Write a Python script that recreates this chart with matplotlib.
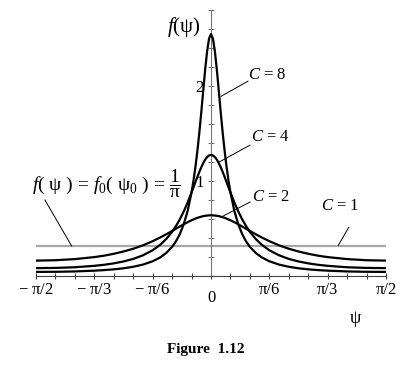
import numpy as np
import matplotlib
matplotlib.use("Agg")
import matplotlib.pyplot as plt
from matplotlib.ticker import FixedLocator, MultipleLocator

plt.rcParams['font.family'] = ['Liberation Serif', 'DejaVu Serif']
plt.rcParams['mathtext.fontset'] = 'custom'
plt.rcParams['mathtext.rm'] = 'Liberation Serif'
plt.rcParams['mathtext.it'] = 'Liberation Serif:italic'
plt.rcParams['mathtext.bf'] = 'Liberation Serif:bold'

# ---- data ----
psi_deg = [-90, -80, -70, -60, -55, -50, -45, -40, -35, -30, -26, -23, -20, -18, -16, -14, -12, -10,
           -9, -8, -7, -6, -5, -4, -3, -2, -1, 0, 1, 2, 3, 4, 5, 6, 7, 8, 9,
           10, 12, 14, 16, 18, 20, 23, 26, 30, 35, 40, 45, 50, 55, 60, 70, 80, 90]

f_c8 = [0.040, 0.041, 0.045, 0.053, 0.059, 0.067, 0.078, 0.094, 0.117, 0.152, 0.194, 0.240, 0.304,
        0.363, 0.440, 0.543, 0.684, 0.878, 1.002, 1.147, 1.316, 1.508, 1.722, 1.949, 2.172, 2.365,
        2.499, 2.546, 2.499, 2.365, 2.172, 1.949, 1.722, 1.508, 1.316, 1.147, 1.002, 0.878, 0.684,
        0.543, 0.440, 0.363, 0.304, 0.240, 0.194, 0.152, 0.117, 0.094, 0.078, 0.067, 0.059, 0.053,
        0.045, 0.041, 0.040]

f_c4 = [0.080, 0.082, 0.089, 0.104, 0.115, 0.130, 0.150, 0.177, 0.215, 0.268, 0.328, 0.387, 0.462,
        0.524, 0.595, 0.678, 0.772, 0.877, 0.931, 0.987, 1.041, 1.094, 1.143, 1.187, 1.223, 1.250,
        1.267, 1.273, 1.267, 1.250, 1.223, 1.187, 1.143, 1.094, 1.041, 0.987, 0.931, 0.877, 0.772,
        0.678, 0.595, 0.524, 0.462, 0.387, 0.328, 0.268, 0.215, 0.177, 0.150, 0.130, 0.115, 0.104,
        0.089, 0.082, 0.080]

f_c2 = [0.159, 0.163, 0.175, 0.196, 0.211, 0.231, 0.255, 0.284, 0.320, 0.364, 0.404, 0.437, 0.471,
        0.495, 0.519, 0.542, 0.564, 0.584, 0.593, 0.602, 0.610, 0.616, 0.622, 0.628, 0.631, 0.634,
        0.636, 0.637, 0.636, 0.634, 0.631, 0.628, 0.622, 0.616, 0.610, 0.602, 0.593, 0.584, 0.564,
        0.542, 0.519, 0.495, 0.471, 0.437, 0.404, 0.364, 0.320, 0.284, 0.255, 0.231, 0.211, 0.196,
        0.175, 0.163, 0.159]

f_c1 = 0.318  # level of the C = 1 line (1/pi)

xtick_labels = ["$-$ π/2", "$-$ π/3", "$-$ π/6", "", "π/6", "π/3", "π/2"]
ytick_values = [1, 2]
curve_labels = ["C = 8", "C = 4", "C = 2", "C = 1"]

psi = np.deg2rad(psi_deg)
half = np.pi / 2

fig = plt.figure(figsize=(4.16, 3.75), dpi=100)
ax = fig.add_axes([36 / 416, (375 - 275.7) / 375, 350 / 416, 265.7 / 375])
ax.set_xlim(-half, half)
ax.set_ylim(0, 2.8)

ax.plot([-half, half], [f_c1, f_c1], color='#a6a6a6', lw=1.6, solid_capstyle='butt', zorder=2)
for vals in (f_c2, f_c4, f_c8):
    ax.plot(psi, vals, color='black', lw=1.6, zorder=3)

for s in ('top', 'right'):
    ax.spines[s].set_visible(False)
ax.spines['left'].set_position(('data', 0))
ax.spines['bottom'].set_position(('data', 0))
ax.spines['left'].set_color('#777777')
ax.spines['bottom'].set_color('#444444')
ax.spines['left'].set_linewidth(0.8)
ax.spines['bottom'].set_linewidth(0.8)

xt = [-half, -np.pi / 3, -np.pi / 6, 0, np.pi / 6, np.pi / 3, half]
ax.xaxis.set_major_locator(FixedLocator(xt))
ax.xaxis.set_minor_locator(MultipleLocator(np.pi / 18))
ax.set_xticklabels(xtick_labels)
ax.yaxis.set_major_locator(FixedLocator(ytick_values))
ax.yaxis.set_minor_locator(MultipleLocator(0.2))
ax.set_yticklabels([str(v) for v in ytick_values])
ax.tick_params(axis='x', which='both', direction='inout', length=5, width=0.8,
               color='#444444', labelsize=12, pad=2)
ax.tick_params(axis='y', which='both', direction='inout', length=5, width=0.8,
               color='#777777', labelsize=12, pad=3)

ax.text(0, -0.23, "0", ha='center', va='center', fontsize=12)
ax.text(1.30, -0.45, "ψ", ha='center', va='center', fontsize=13)
ax.text(-0.095, 2.62, "$f$(ψ)", ha='right', va='center', fontsize=15)

# curve labels with leader lines
ann = [
    (curve_labels[0], (0.332, 2.12), (0.332, 2.05), (0.090, 1.89)),
    (curve_labels[1], (0.359, 1.46), (0.350, 1.376), (0.072, 1.197)),
    (curve_labels[2], (0.368, 0.83), (0.350, 0.776), (0.108, 0.628)),
    (curve_labels[3], (0.987, 0.73), (1.236, 0.509), (1.143, 0.320)),
]
for lab, tpos, p0, p1 in ann:
    ax.text(tpos[0], tpos[1], "$C$" + lab[1:], ha='left', va='center', fontsize=12)
    ax.plot([p0[0], p1[0]], [p0[1], p1[1]], color='black', lw=0.7, zorder=4)

ax.text(-1.607, 0.97,
        r"$f$( ψ ) = $f$$_{\rm 0}$( ψ$_{\rm 0}$ ) = $\dfrac{1}{\mathrm{π}}$",
        ha='left', va='center', fontsize=14, clip_on=False)
ax.plot([-1.490, -1.251], [0.797, 0.313], color='black', lw=0.7, zorder=4)

fig.text(206 / 416, 1 - 350 / 375, "Figure  1.12", ha='center', va='center', fontsize=11,
         fontweight='bold')

fig.savefig("out.png", dpi=100)
